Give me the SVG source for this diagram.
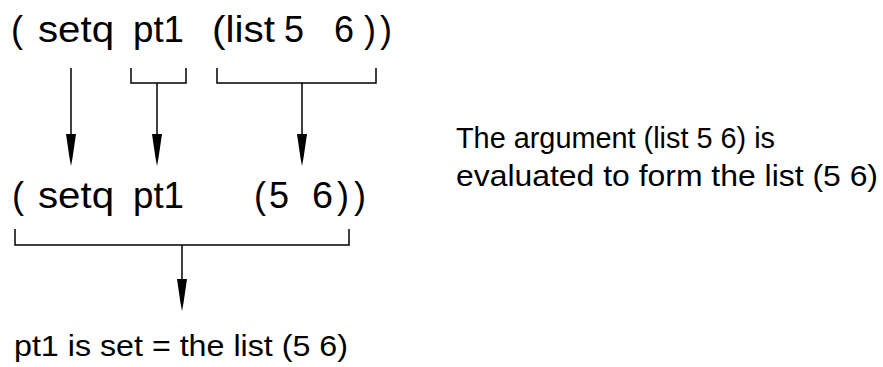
<svg xmlns="http://www.w3.org/2000/svg" width="883" height="367" viewBox="0 0 883 367">
<style>
.t{font-family:"Liberation Sans",Arial,sans-serif;fill:#000}
.big{font-size:36px}
.mid{font-size:30px}
.sm{font-size:30px}
.ln{stroke:#000;stroke-width:1.5;fill:none}
.hd{fill:#000;stroke:none}
</style>
<rect width="883" height="367" fill="#fff"/>
<g id="row1">
<text class="t big" x="11" y="42">(</text>
<text class="t big" x="38" y="42" textLength="76" lengthAdjust="spacingAndGlyphs">setq</text>
<text class="t big" x="133" y="42" textLength="51" lengthAdjust="spacingAndGlyphs">pt1</text>
<text class="t big" x="212" y="42" textLength="63" lengthAdjust="spacingAndGlyphs">(list</text>
<text class="t big" x="284" y="42" textLength="20" lengthAdjust="spacingAndGlyphs">5</text>
<text class="t big" x="334" y="42" textLength="20" lengthAdjust="spacingAndGlyphs">6</text>
<text class="t big" x="364" y="42">)</text>
<text class="t big" x="380" y="42">)</text>
</g>
<g id="row2">
<text class="t big" x="12" y="208">(</text>
<text class="t big" x="38" y="208" textLength="76" lengthAdjust="spacingAndGlyphs">setq</text>
<text class="t big" x="133" y="208" textLength="51" lengthAdjust="spacingAndGlyphs">pt1</text>
<text class="t big" x="254" y="208">(</text>
<text class="t big" x="269" y="208" textLength="20" lengthAdjust="spacingAndGlyphs">5</text>
<text class="t big" x="312" y="208" textLength="21" lengthAdjust="spacingAndGlyphs">6</text>
<text class="t big" x="337" y="208">)</text>
<text class="t big" x="354" y="208">)</text>
</g>
<g id="note">
<text class="t mid" x="456" y="148" textLength="319" lengthAdjust="spacingAndGlyphs">The argument (list 5 6) is</text>
<text class="t mid" x="456" y="186" textLength="422" lengthAdjust="spacingAndGlyphs">evaluated to form the list (5 6)</text>
</g>
<g id="result">
<text class="t sm" x="14" y="356" textLength="334" lengthAdjust="spacingAndGlyphs">pt1 is set = the list (5 6)</text>
</g>
<g id="connectors">
<path class="ln" d="M71 68V140"/>
<path class="ln" d="M131 68V83H186V68M157 83V140"/>
<path class="ln" d="M217 68V83H376V68M302 83V140"/>
<path class="ln" d="M15 229V245H349V229M182 245V285"/>
<polygon class="hd" points="66,134 76,134 72.5,158 71,166 69.5,158"/>
<polygon class="hd" points="152,134 162,134 158.5,158 157,166 155.5,158"/>
<polygon class="hd" points="297,134 307,134 303.5,158 302,166 300.5,158"/>
<polygon class="hd" points="177,279 187,279 183.5,303 182,311 180.5,303"/>
</g>
</svg>
